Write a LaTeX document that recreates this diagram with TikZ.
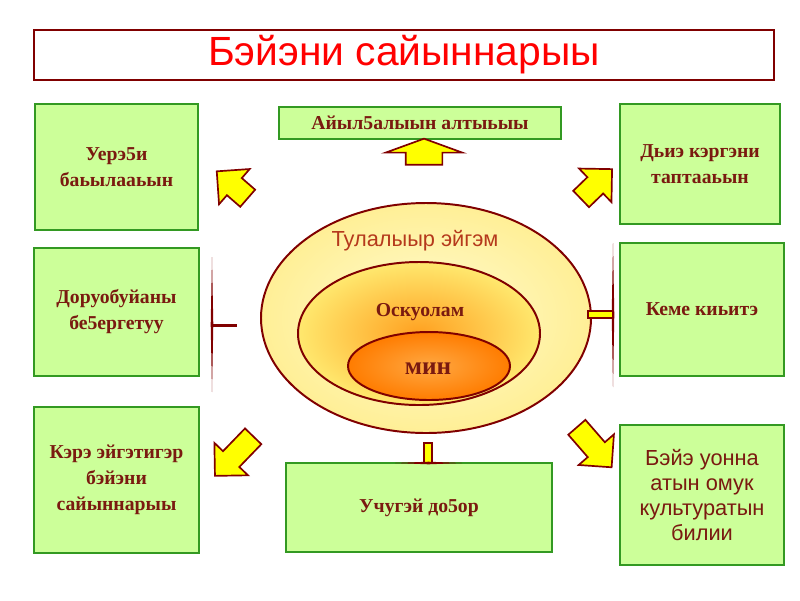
\documentclass[tikz,border=0pt]{standalone}
\usepackage{fontspec}
\setmainfont{Liberation Serif}
\setsansfont{Liberation Sans}
\usetikzlibrary{shapes.geometric, shapes.arrows}
\definecolor{boxgreen}{HTML}{CCFF99}
\definecolor{boxline}{HTML}{339922}
\definecolor{darkred}{HTML}{7A1A10}
\definecolor{titlered}{HTML}{FF0000}
\definecolor{rimred}{HTML}{800000}
\definecolor{envred}{HTML}{B5391C}
\definecolor{arrowyellow}{HTML}{FFFF00}
\definecolor{outerin}{HTML}{FFFBD2}
\definecolor{outerout}{HTML}{FFEF96}
\definecolor{midin}{HTML}{FFA020}
\definecolor{midout}{HTML}{FFE86E}
\definecolor{corein}{HTML}{FFA842}
\definecolor{coreout}{HTML}{FF7C00}
\def\px{0.025cm}
% tapered thin line: #1 = x, #2 = top y, #3 = bottom y
\newcommand{\taperv}[3]{%
\fill[rimred] (#1,#2) -- ({#1+1.3},{(#2+#3)/2}) -- (#1,#3) -- ({#1-1.3},{(#2+#3)/2}) -- cycle;
}
% same, lying: #1 = y, #2 = left x, #3 = right x
\newcommand{\taperh}[3]{%
\fill[rimred] (#2,#1) -- ({(#2+#3)/2},{#1-1.3}) -- (#3,#1) -- ({(#2+#3)/2},{#1+1.3}) -- cycle;
}

\begin{document}
\begin{tikzpicture}[
    x=\px, y=-\px,
    box/.style={rectangle, draw=boxline, fill=boxgreen, line width=1.5pt, align=center,
        text=darkred, font=\fontsize{14}{18.5}\selectfont\bfseries},
    ring/.style={ellipse, draw=rimred, line width=1.4pt, inner sep=0pt, shading=radial},
    fatarrow/.style={single arrow, draw=rimred, fill=arrowyellow, line width=1.2pt,
        inner xsep=0pt, inner ysep=10.5*\px, single arrow head extend=12*\px,
        minimum height=#1*\px}
]
\useasboundingbox (0,0) rectangle (800,600);

% title
\node[draw=rimred, line width=2pt, fill=white, minimum width=740*\px, minimum height=50*\px,
    font=\sffamily\fontsize{29}{30}\selectfont, text=titlered] (title) at (404,55) {Бэйэни сайыннарыы};

% boxes
\node[box, minimum width=163*\px, minimum height=126*\px] (obs) at (116.5,167) {Уерэ5и\\баьылааьын};
\node[box, minimum width=282*\px, minimum height=32*\px] (native) at (420,123) {Айыл5алыын алтыьыы};
\node[box, minimum width=160*\px, minimum height=120*\px] (family) at (700,164) {Дьиэ кэргэни\\таптааьын};
\node[box, minimum width=165*\px, minimum height=128*\px] (health) at (116.5,312) {Доруобуйаны\\бе5ергетуу};
\node[box, minimum width=164*\px, minimum height=133*\px] (helper) at (702,309.5) {Кеме киьитэ};
\node[box, minimum width=165*\px, minimum height=146*\px] (beauty) at (116.5,480) {Кэрэ эйгэтигэр\\бэйэни\\сайыннарыы};
\node[box, minimum width=266*\px, minimum height=89*\px] (friend) at (419,507.5) {Учугэй до5ор};
\node[box, minimum width=164*\px, minimum height=140*\px,
    font=\sffamily\fontsize{15.5}{17.8}\selectfont] (culture) at (702,495) {Бэйэ уонна\\атын омук\\культуратын\\билии};

% rings
\node[ring, minimum width=330*\px, minimum height=230*\px, inner color=outerin, outer color=outerout] (env) at (426,318) {};
\node[ring, minimum width=242*\px, minimum height=143*\px, inner color=midin, outer color=midout] (school) at (419,333.5) {};
\node[ring, minimum width=162*\px, minimum height=68*\px, inner color=corein, outer color=coreout] (me) at (429,366) {};
\node[font=\sffamily\fontsize{15.5}{18}\selectfont, text=envred] (envtext) at (415,241) {Тулалыыр эйгэм};
\node[font=\bfseries\fontsize{14}{16}\selectfont, text=darkred] (schooltext) at (420,312) {Оскуолам};
\node[font=\bfseries\fontsize{18}{20}\selectfont, text=darkred] (metext) at (428,369) {мин};

% arrows
\node[fatarrow=26, inner ysep=17.5*\px, single arrow head extend=20*\px, single arrow tip angle=140,
    rotate=90] (up) at (424,155) {};
\node[fatarrow=41, rotate=139] (upleft) at (236.5,188.5) {};
\node[fatarrow=43, rotate=44] (upright) at (592.5,188) {};
\node[fatarrow=55, rotate=226] (downleft) at (238,452) {};
\node[fatarrow=53, rotate=311] (downright) at (590.5,443) {};

% T bars
\taperv{212}{257}{392}
\draw[rimred, line width=3*\px] (212,325) -- (237,325);
\taperv{613}{243}{387}
\draw[rimred, fill=arrowyellow, line width=0.8pt] (588,311) rectangle (613,318);
\draw[rimred, fill=arrowyellow, line width=0.8pt] (424,443) rectangle (432,463);
\taperh{463}{395}{462}
\end{tikzpicture}
\end{document}
